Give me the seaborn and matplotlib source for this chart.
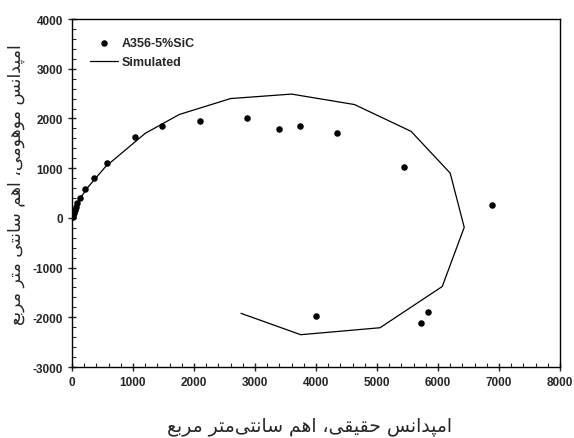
import matplotlib
matplotlib.use("Agg")
import matplotlib.pyplot as plt
import seaborn as sns
import pandas as pd
from matplotlib.ticker import MultipleLocator

# measured points (Z' , -Z'')
exp_re = [10, 20, 35, 50, 65, 87, 136, 212, 359, 571, 1028, 1469, 2106, 2873,
          3401, 3739, 4348, 5448, 6884, 3995, 5829, 5714]
exp_im = [20, 50, 100, 160, 221, 302, 402, 583, 805, 1107, 1630, 1851, 1952, 2012,
          1797, 1857, 1704, 1026, 255, -1972, -1898, -2113]

# simulated curve
sim_re = [0, 5, 30, 100, 250, 550, 1200, 1760, 2600, 3600, 4630, 5560, 6200,
          6430, 6070, 5050, 3750, 2770]
sim_im = [0, 30, 150, 330, 600, 1030, 1700, 2080, 2400, 2490, 2280, 1740, 900,
          -190, -1380, -2210, -2350, -1920]

xlabel_fa = "امپدانس حقیقی، اهم سانتی\u200cمتر مربع"
ylabel_fa = "امپدانس موهومی، اهم سانتی متر مربع"

# simple arabic/persian shaping (matplotlib has no text shaping)
FORMS = {
    'ا': ('\uFE8D', '\uFE8E', None, None),
    'د': ('\uFEA9', '\uFEAA', None, None),
    'ر': ('\uFEAD', '\uFEAE', None, None),
    'و': ('\uFEED', '\uFEEE', None, None),
    'ب': ('\uFE8F', '\uFE90', '\uFE91', '\uFE92'),
    'پ': ('\uFB56', '\uFB57', '\uFB58', '\uFB59'),
    'ت': ('\uFE95', '\uFE96', '\uFE97', '\uFE98'),
    'ح': ('\uFEA1', '\uFEA2', '\uFEA3', '\uFEA4'),
    'س': ('\uFEB1', '\uFEB2', '\uFEB3', '\uFEB4'),
    'ع': ('\uFEC9', '\uFECA', '\uFECB', '\uFECC'),
    'ق': ('\uFED5', '\uFED6', '\uFED7', '\uFED8'),
    'م': ('\uFEE1', '\uFEE2', '\uFEE3', '\uFEE4'),
    'ن': ('\uFEE5', '\uFEE6', '\uFEE7', '\uFEE8'),
    'ه': ('\uFEE9', '\uFEEA', '\uFEEB', '\uFEEC'),
    'ی': ('\uFBFC', '\uFBFD', '\uFBFE', '\uFBFF'),
}


def shape(text):
    chars = list(text)
    out = []
    for i, c in enumerate(chars):
        if c not in FORMS:
            if c != '\u200c':
                out.append(c)
            continue
        iso, fin, ini, med = FORMS[c]
        prev = chars[i - 1] if i > 0 else None
        nxt = chars[i + 1] if i + 1 < len(chars) else None
        jp = prev in FORMS and FORMS[prev][2] is not None
        jn = nxt in FORMS and ini is not None
        if jp and jn:
            out.append(med)
        elif jp:
            out.append(fin)
        elif jn:
            out.append(ini)
        else:
            out.append(iso)
    return ''.join(reversed(out))


sns.set_style("ticks")
plt.rcParams['font.family'] = ['Liberation Sans', 'DejaVu Sans']
plt.rcParams['axes.unicode_minus'] = False

exp_df = pd.DataFrame({'re': exp_re, 'im': exp_im})
sim_df = pd.DataFrame({'re': sim_re, 'im': sim_im})

fig = plt.figure(figsize=(5.74, 4.39), dpi=100)
ax = fig.add_axes([0.1254, 0.1617, 0.8502, 0.7927])

sns.scatterplot(data=exp_df, x='re', y='im', ax=ax, color='black', s=22,
                edgecolor='black', linewidth=0, label='A356-5%SiC', zorder=3)
sns.lineplot(data=sim_df, x='re', y='im', ax=ax, sort=False, estimator=None,
             color='black', linewidth=0.9, label='Simulated')

ax.set_xlim(0, 8000)
ax.set_ylim(-3000, 4000)
ax.xaxis.set_major_locator(MultipleLocator(1000))
ax.xaxis.set_minor_locator(MultipleLocator(200))
ax.yaxis.set_major_locator(MultipleLocator(1000))
ax.yaxis.set_minor_locator(MultipleLocator(200))
ax.tick_params(which='major', direction='inout', length=6, width=1, labelsize=8.5)
ax.tick_params(which='minor', direction='in', length=3, width=0.8)
for lbl in ax.get_xticklabels() + ax.get_yticklabels():
    lbl.set_fontweight('bold')
for sp in ax.spines.values():
    sp.set_visible(True)
    sp.set_linewidth(1)
    sp.set_color('black')

ax.set_xlabel(shape(xlabel_fa), family=['DejaVu Sans'], fontsize=13.5)
ax.set_ylabel(shape(ylabel_fa), family=['DejaVu Sans'], fontsize=12.5)
ax.xaxis.set_label_coords(0.486, -0.14)
ax.yaxis.set_label_coords(-0.096, 0.526)

leg = ax.legend(loc='upper left', bbox_to_anchor=(0.014, 0.98), frameon=False,
                prop={'weight': 'bold', 'size': 9}, handlelength=2.2,
                handletextpad=0.3, labelspacing=0.55)

fig.savefig('out.png', dpi=100)
